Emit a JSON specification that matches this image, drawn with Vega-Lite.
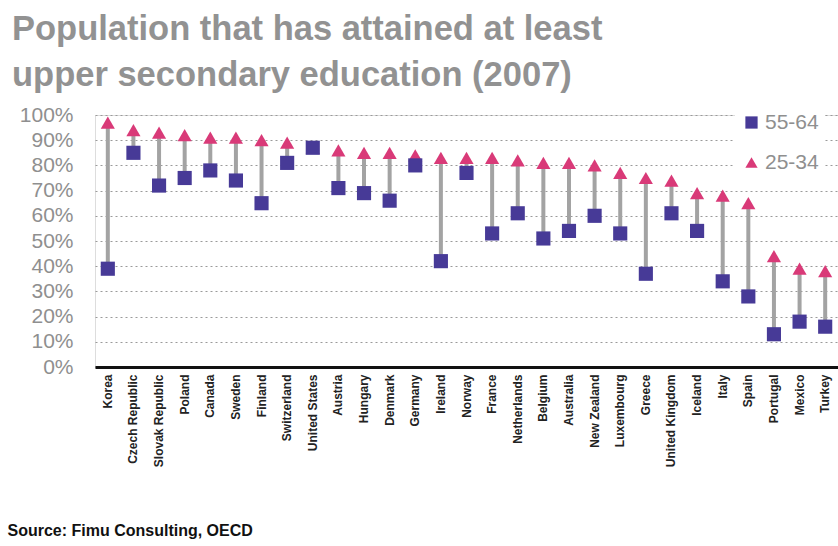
{
  "$schema": "https://vega.github.io/schema/vega-lite/v6.json",
  "width": 743,
  "height": 252,
  "autosize": "none",
  "padding": {"left": 95, "top": 115, "right": 0, "bottom": 179},
  "background": "white",
  "title": {
    "text": ["Population that has attained at least", "upper secondary education (2007)"],
    "anchor": "start",
    "frame": "group",
    "dx": -83,
    "offset": 11,
    "font": "Liberation Sans",
    "fontSize": 34.5,
    "fontWeight": "bold",
    "color": "#929292",
    "lineHeight": 46
  },
  "data": {
    "values": [
      {"country": "Korea", "55-64": 39, "25-34": 97},
      {"country": "Czech Republic", "55-64": 85, "25-34": 94},
      {"country": "Slovak Republic", "55-64": 72, "25-34": 93},
      {"country": "Poland", "55-64": 75, "25-34": 92},
      {"country": "Canada", "55-64": 78, "25-34": 91},
      {"country": "Sweden", "55-64": 74, "25-34": 91},
      {"country": "Finland", "55-64": 65, "25-34": 90},
      {"country": "Switzerland", "55-64": 81, "25-34": 89},
      {"country": "United States", "55-64": 87, "25-34": 87},
      {"country": "Austria", "55-64": 71, "25-34": 86},
      {"country": "Hungary", "55-64": 69, "25-34": 85},
      {"country": "Denmark", "55-64": 66, "25-34": 85},
      {"country": "Germany", "55-64": 80, "25-34": 84},
      {"country": "Ireland", "55-64": 42, "25-34": 83},
      {"country": "Norway", "55-64": 77, "25-34": 83},
      {"country": "France", "55-64": 53, "25-34": 83},
      {"country": "Netherlands", "55-64": 61, "25-34": 82},
      {"country": "Belgium", "55-64": 51, "25-34": 81},
      {"country": "Australia", "55-64": 54, "25-34": 81},
      {"country": "New Zealand", "55-64": 60, "25-34": 80},
      {"country": "Luxembourg", "55-64": 53, "25-34": 77},
      {"country": "Greece", "55-64": 37, "25-34": 75},
      {"country": "United Kingdom", "55-64": 61, "25-34": 74},
      {"country": "Iceland", "55-64": 54, "25-34": 69},
      {"country": "Italy", "55-64": 34, "25-34": 68},
      {"country": "Spain", "55-64": 28, "25-34": 65},
      {"country": "Portugal", "55-64": 13, "25-34": 44},
      {"country": "Mexico", "55-64": 18, "25-34": 39},
      {"country": "Turkey", "55-64": 16, "25-34": 38}
    ]
  },
  "encoding": {
    "x": {
      "field": "country",
      "type": "nominal",
      "sort": null,
      "scale": {"paddingInner": 0, "paddingOuter": 0},
      "axis": {
        "title": "Source: Fimu Consulting, OECD",
        "titleAnchor": "start",
        "titleAlign": "left",
        "titleBaseline": "middle",
        "titleX": -88,
        "titleY": 163,
        "titleFont": "Liberation Sans",
        "titleFontSize": 16,
        "titleFontWeight": "bold",
        "titleColor": "#111",
        "labelAngle": -90,
        "labelFont": "Liberation Sans",
        "labelFontSize": 12,
        "labelFontWeight": "bold",
        "labelColor": "#222",
        "labelPadding": 7,
        "labelOverlap": false,
        "ticks": false,
        "domain": true,
        "domainColor": "#111",
        "domainWidth": 3,
        "grid": false
      }
    }
  },
  "layer": [
    {
      "mark": {"type": "rule", "color": "#a3a3a3", "strokeWidth": 4},
      "encoding": {
        "y": {
          "field": "55-64",
          "type": "quantitative",
          "scale": {"domain": [0, 100], "nice": false},
          "axis": {
            "title": null,
            "values": [0, 10, 20, 30, 40, 50, 60, 70, 80, 90, 100],
            "labelExpr": "datum.value + '%'",
            "labelFont": "Liberation Sans",
            "labelFontSize": 21,
            "labelColor": "#8f8f8f",
            "labelPadding": 22,
            "labelOverlap": false,
            "labelBound": false,
            "domain": false,
            "ticks": false,
            "grid": true,
            "gridColor": "#9a9a9a",
            "gridDash": [2, 3],
            "gridWidth": 1
          }
        },
        "y2": {"field": "25-34"}
      }
    },
    {
      "transform": [{"fold": ["25-34", "55-64"], "as": ["group", "value"]}],
      "mark": {"type": "point", "filled": true, "opacity": 1, "size": 200},
      "encoding": {
        "y": {
          "field": "value",
          "type": "quantitative",
          "scale": {"domain": [0, 100], "nice": false},
          "axis": {
            "title": null,
            "values": [0, 10, 20, 30, 40, 50, 60, 70, 80, 90, 100],
            "labelExpr": "datum.value + '%'",
            "labelFont": "Liberation Sans",
            "labelFontSize": 21,
            "labelColor": "#8f8f8f",
            "labelPadding": 22,
            "labelOverlap": false,
            "labelBound": false,
            "domain": false,
            "ticks": false,
            "grid": true,
            "gridColor": "#9a9a9a",
            "gridDash": [2, 3],
            "gridWidth": 1
          }
        },
        "color": {
          "field": "group",
          "type": "nominal",
          "scale": {"domain": ["55-64", "25-34"], "range": ["#473a97", "#d93a78"]},
          "legend": {
            "title": null,
            "orient": "none",
            "legendX": 640,
            "legendY": -9,
            "fillColor": "white",
            "padding": 6,
            "labelFont": "Liberation Sans",
            "labelFontSize": 21,
            "labelColor": "#8f8f8f",
            "symbolSize": 150,
            "rowPadding": 18,
            "labelOffset": 3
          }
        },
        "shape": {
          "field": "group",
          "type": "nominal",
          "scale": {"domain": ["55-64", "25-34"], "range": ["square", "triangle-up"]}
        }
      }
    }
  ]
}
